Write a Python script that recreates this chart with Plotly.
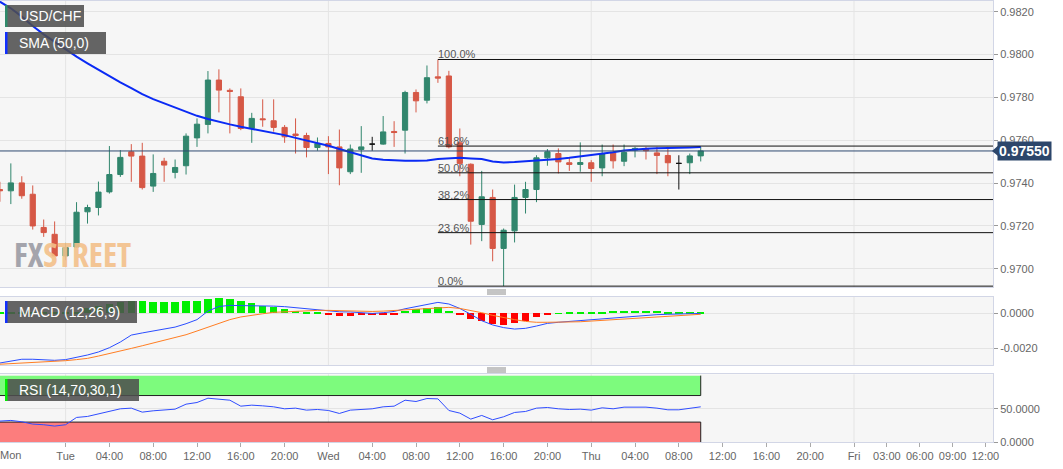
import plotly.graph_objects as go
from plotly.subplots import make_subplots

# ---------------- data (hourly bars, x = hours since Mon 18:00) ----------------
HOURS = list(range(65))
OPEN = [0.97370, 0.97364, 0.97401, 0.97348, 0.97193, 0.97161, 0.97060, 0.97102, 0.97266, 0.97286,
        0.97359, 0.97440, 0.97546, 0.97526, 0.97386, 0.97502, 0.97450, 0.97481, 0.97611, 0.97674,
        0.97881, 0.97833, 0.97803, 0.97655, 0.97700, 0.97691, 0.97660, 0.97629, 0.97622, 0.97566,
        0.97585, 0.97569, 0.97453, 0.97557, 0.97582, 0.97582, 0.97641, 0.97647, 0.97823, 0.97787,
        0.97896, 0.97900, 0.97588, 0.97488, 0.97207, 0.97333, 0.97095, 0.97177, 0.97333, 0.97370,
        0.97518, 0.97538, 0.97495, 0.97487, 0.97495, 0.97471, 0.97541, 0.97502, 0.97554, 0.97559,
        0.97541, 0.97529, 0.97492, 0.97495, 0.97527]
HIGH = [0.97406, 0.97492, 0.97432, 0.97389, 0.97230, 0.97221, 0.97121, 0.97311, 0.97299, 0.97407,
        0.97573, 0.97554, 0.97582, 0.97588, 0.97534, 0.97518, 0.97510, 0.97632, 0.97702, 0.97923,
        0.97931, 0.97842, 0.97842, 0.97728, 0.97791, 0.97791, 0.97671, 0.97702, 0.97635, 0.97613,
        0.97619, 0.97650, 0.97580, 0.97666, 0.97616, 0.97713, 0.97689, 0.97831, 0.97837, 0.97949,
        0.97977, 0.97924, 0.97655, 0.97492, 0.97457, 0.97370, 0.97188, 0.97393, 0.97406, 0.97530,
        0.97559, 0.97562, 0.97520, 0.97590, 0.97507, 0.97580, 0.97580, 0.97580, 0.97569, 0.97569,
        0.97569, 0.97569, 0.97530, 0.97538, 0.97569]
LOW = [0.97313, 0.97302, 0.97327, 0.97183, 0.97149, 0.97059, 0.97040, 0.97099, 0.97211, 0.97249,
       0.97351, 0.97429, 0.97406, 0.97370, 0.97359, 0.97406, 0.97422, 0.97440, 0.97569, 0.97632,
       0.97730, 0.97632, 0.97647, 0.97588, 0.97663, 0.97640, 0.97588, 0.97538, 0.97520, 0.97551,
       0.97442, 0.97390, 0.97442, 0.97448, 0.97551, 0.97579, 0.97569, 0.97538, 0.97730, 0.97772,
       0.97868, 0.97562, 0.97432, 0.97113, 0.97129, 0.97035, 0.96919, 0.97123, 0.97258, 0.97311,
       0.97481, 0.97445, 0.97457, 0.97453, 0.97406, 0.97432, 0.97468, 0.97479, 0.97520, 0.97510,
       0.97442, 0.97432, 0.97370, 0.97442, 0.97501]
CLOSE = [0.97364, 0.97401, 0.97341, 0.97200, 0.97169, 0.97060, 0.97099, 0.97264, 0.97286, 0.97358,
         0.97440, 0.97520, 0.97526, 0.97379, 0.97445, 0.97484, 0.97473, 0.97619, 0.97675, 0.97881,
         0.97834, 0.97828, 0.97655, 0.97702, 0.97696, 0.97660, 0.97616, 0.97622, 0.97566, 0.97585,
         0.97569, 0.97471, 0.97559, 0.97569, 0.97582, 0.97639, 0.97636, 0.97823, 0.97784, 0.97892,
         0.97890, 0.97569, 0.97492, 0.97222, 0.97336, 0.97095, 0.97180, 0.97333, 0.97370, 0.97518,
         0.97546, 0.97499, 0.97487, 0.97496, 0.97468, 0.97538, 0.97504, 0.97543, 0.97562, 0.97551,
         0.97529, 0.97495, 0.97492, 0.97527, 0.97550]
SMA50 = [0.98247, 0.98216, 0.98177, 0.98133, 0.98094, 0.98058, 0.98024, 0.97990, 0.97959, 0.97928,
         0.97900, 0.97870, 0.97843, 0.97815, 0.97792, 0.97772, 0.97753, 0.97733, 0.97714, 0.97699,
         0.97685, 0.97674, 0.97663, 0.97653, 0.97644, 0.97635, 0.97624, 0.97611, 0.97599, 0.97588,
         0.97574, 0.97559, 0.97544, 0.97530, 0.97515, 0.97509, 0.97506, 0.97504, 0.97504, 0.97506,
         0.97513, 0.97516, 0.97518, 0.97515, 0.97512, 0.97501, 0.97496, 0.97498, 0.97501, 0.97506,
         0.97509, 0.97513, 0.97518, 0.97524, 0.97530, 0.97537, 0.97544, 0.97552, 0.97557, 0.97560,
         0.97563, 0.97563, 0.97565, 0.97566, 0.97568]
MACD = [-0.00281, -0.00272, -0.00260, -0.00260, -0.00262, -0.00266, -0.00262, -0.00251, -0.00236, -0.00219,
        -0.00195, -0.00163, -0.00124, -0.00112, -0.00101, -0.00092, -0.00079, -0.00060, -0.00037, 0.00011,
        0.00037, 0.00043, 0.00043, 0.00043, 0.00043, 0.00039, 0.00036, 0.00030, 0.00024, 0.00019,
        0.00011, 0.00007, 0.00006, 0.00004, -0.00002, 0.00002, 0.00009, 0.00024, 0.00036, 0.00047,
        0.00060, 0.00051, 0.00026, -0.00007, -0.00043, -0.00067, -0.00082, -0.00090, -0.00086, -0.00073,
        -0.00058, -0.00052, -0.00047, -0.00043, -0.00039, -0.00034, -0.00028, -0.00022, -0.00017, -0.00013,
        -0.00009, -0.00007, -0.00006, -0.00004, -0.00002]
SIGNAL = [-0.00288, -0.00285, -0.00281, -0.00277, -0.00275, -0.00272, -0.00268, -0.00262, -0.00255, -0.00242,
          -0.00229, -0.00214, -0.00199, -0.00184, -0.00169, -0.00152, -0.00139, -0.00122, -0.00101, -0.00079,
          -0.00056, -0.00037, -0.00022, -0.00011, -0.00004, 0.00004, 0.00007, 0.00011, 0.00013, 0.00015,
          0.00015, 0.00013, 0.00011, 0.00009, 0.00009, 0.00011, 0.00015, 0.00019, 0.00022, 0.00028,
          0.00032, 0.00032, 0.00026, 0.00015, 0.00002, -0.00013, -0.00026, -0.00037, -0.00047, -0.00052,
          -0.00052, -0.00052, -0.00051, -0.00049, -0.00045, -0.00041, -0.00037, -0.00034, -0.00030, -0.00026,
          -0.00022, -0.00019, -0.00015, -0.00011, -0.00007]
HIST = [0.00002, 0.00004, 0.00006, 0.00005, 0.00004, 0.00003, 0.00004, 0.00010, 0.00030, 0.00043,
        0.00052, 0.00062, 0.00071, 0.00071, 0.00066, 0.00062, 0.00062, 0.00069, 0.00071, 0.00082,
        0.00086, 0.00080, 0.00069, 0.00056, 0.00043, 0.00034, 0.00022, 0.00013, 0.00006, 0.00002,
        -0.00004, -0.00013, -0.00013, -0.00011, -0.00009, -0.00006, -0.00004, 0.00015, 0.00022, 0.00030,
        0.00034, 0.00013, -0.00006, -0.00034, -0.00042, -0.00059, -0.00063, -0.00052, -0.00041, -0.00019,
        -0.00006, 0.00001, 0.00005, 0.00007, 0.00009, 0.00010, 0.00013, 0.00015, 0.00015, 0.00015,
        0.00013, 0.00010, 0.00008, 0.00008, 0.00008]
RSI = [31.5, 32.5, 30.5, 27.0, 26.0, 24.0, 26.0, 37.0, 38.5, 42.0,
       46.0, 50.0, 51.0, 45.0, 47.0, 48.0, 49.5, 57.0, 59.5, 66.0,
       64.0, 63.0, 54.0, 55.5, 54.5, 53.0, 50.0, 51.0, 48.0, 49.0,
       47.5, 43.0, 48.0, 49.0, 50.0, 53.0, 54.0, 63.0, 61.0, 65.5,
       65.0, 47.5, 43.5, 34.5, 40.0, 33.5, 38.0, 44.5, 46.0, 51.0,
       52.0, 50.0, 49.0, 49.5, 48.0, 51.5, 50.0, 52.5, 52.5, 52.5,
       51.0, 48.5, 48.5, 51.0, 53.0]
FIB_RATIOS = [0.0, 0.236, 0.382, 0.5, 0.618, 1.0]
RSI_LEVELS = [70, 30]
TICK_HOURS = [6, 10, 14, 18, 22, 26, 30, 34, 38, 42, 46, 50, 54, 58, 62, 66, 70, 74, 78, 81, 84, 87, 90]
TICK_LABELS = ["Tue", "04:00", "08:00", "12:00", "16:00", "20:00", "Wed", "04:00", "08:00", "12:00",
               "16:00", "20:00", "Thu", "04:00", "08:00", "12:00", "16:00", "20:00", "Fri", "03:00",
               "06:00", "09:00", "12:00"]
DAY_HOURS = [6, 30, 54, 78]
FIRST_DAY_LABEL = "Mon"

# ---------------- style ----------------
FONT = "Liberation Sans, Arial, sans-serif"
UP = "#31866d"
DOWN = "#d65846"
GRID = "#e4e4e4"
BORDER = "#d2d6e6"
TXT = "#666666"
XRANGE = [0.01, 90.69]
W, H = 1063, 469
ML, MR, MT, MB = 0, 70, 1, 27
PW, PH = W - ML - MR, H - MT - MB


def px_x(p):
    return (p - ML) / PW


def px_y(p):
    return (MT + PH - p) / PH


fig = make_subplots(rows=3, cols=1, shared_xaxes=True, vertical_spacing=0.02)

# candles (dojis drawn in black)
reg = [i for i in HOURS if OPEN[i] != CLOSE[i]]
doj = [i for i in HOURS if OPEN[i] == CLOSE[i]]
fig.add_trace(go.Candlestick(
    x=[HOURS[i] for i in reg], open=[OPEN[i] for i in reg], high=[HIGH[i] for i in reg],
    low=[LOW[i] for i in reg], close=[CLOSE[i] for i in reg],
    increasing=dict(line=dict(color=UP, width=1), fillcolor=UP),
    decreasing=dict(line=dict(color=DOWN, width=1), fillcolor=DOWN),
    showlegend=False, hoverinfo="skip"), row=1, col=1)
fig.add_trace(go.Candlestick(
    x=[HOURS[i] for i in doj], open=[OPEN[i] for i in doj], high=[HIGH[i] for i in doj],
    low=[LOW[i] for i in doj], close=[CLOSE[i] for i in doj],
    increasing=dict(line=dict(color="#111", width=1), fillcolor="#111"),
    decreasing=dict(line=dict(color="#111", width=1), fillcolor="#111"),
    showlegend=False, hoverinfo="skip"), row=1, col=1)
fig.add_trace(go.Scatter(x=HOURS, y=SMA50, mode="lines", line=dict(color="#0a2af5", width=2),
                         showlegend=False, hoverinfo="skip"), row=1, col=1)

# MACD
fig.add_trace(go.Bar(x=HOURS, y=HIST, width=0.68,
                     marker=dict(color=["#00f000" if v >= 0 else "#ff0000" for v in HIST], line=dict(width=0)),
                     showlegend=False, hoverinfo="skip"), row=2, col=1)
fig.add_trace(go.Scatter(x=HOURS, y=MACD, mode="lines", line=dict(color="#2a4dff", width=1),
                         showlegend=False, hoverinfo="skip"), row=2, col=1)
fig.add_trace(go.Scatter(x=HOURS, y=SIGNAL, mode="lines", line=dict(color="#ff7d22", width=1),
                         showlegend=False, hoverinfo="skip"), row=2, col=1)

# RSI
fig.add_trace(go.Scatter(x=HOURS, y=RSI, mode="lines", line=dict(color="#2f4cff", width=1),
                         showlegend=False, hoverinfo="skip"), row=3, col=1)

shapes = []
annotations = []

# RSI bands
last = HOURS[-1]
shapes.append(dict(type="rect", xref="x3", yref="y3", x0=XRANGE[0], x1=last, y0=RSI_LEVELS[0], y1=100,
                   fillcolor="#7dfb7d", line=dict(width=0), layer="below"))
shapes.append(dict(type="rect", xref="x3", yref="y3", x0=XRANGE[0], x1=last, y0=0, y1=RSI_LEVELS[1],
                   fillcolor="#fc7d7d", line=dict(width=0), layer="below"))
shapes.append(dict(type="path", xref="x3", yref="y3",
                   path=f"M {XRANGE[0]},{RSI_LEVELS[0]} L {last},{RSI_LEVELS[0]} L {last},100",
                   line=dict(color="#222", width=1), layer="below"))
shapes.append(dict(type="path", xref="x3", yref="y3",
                   path=f"M {XRANGE[0]},{RSI_LEVELS[1]} L {last},{RSI_LEVELS[1]} L {last},0",
                   line=dict(color="#222", width=1), layer="below"))

# vertical day grid lines
for xr, yr in (("x", "y domain"), ("x2", "y2 domain"), ("x3", "y3 domain")):
    for d in DAY_HOURS:
        shapes.append(dict(type="line", xref=xr, yref=yr, x0=d, x1=d, y0=0, y1=1,
                           line=dict(color=GRID, width=1), layer="below"))

# Fibonacci retracement
hi_idx = max(HOURS, key=lambda i: HIGH[i])
lo_idx = min(HOURS, key=lambda i: LOW[i])
fib_hi, fib_lo = HIGH[hi_idx], LOW[lo_idx]
for r in FIB_RATIOS:
    lvl = fib_lo + r * (fib_hi - fib_lo)
    shapes.append(dict(type="line", xref="x", yref="y", x0=hi_idx, x1=XRANGE[1], y0=lvl, y1=lvl,
                       line=dict(color="#111", width=1), layer="above"))
    annotations.append(dict(xref="x", yref="y", x=hi_idx, y=lvl, text=f"{r * 100:.1f}%", showarrow=False,
                            xanchor="left", yanchor="bottom", xshift=-2, yshift=-3,
                            font=dict(family=FONT, size=11, color="#555")))

# current price line and tag
last_price = CLOSE[-1]
shapes.append(dict(type="line", xref="x domain", yref="y", x0=0, x1=1, y0=last_price, y1=last_price,
                   line=dict(color="#2e4a70", width=1), layer="above"))
shapes.append(dict(type="path", xref="paper", yref="y",
                   path=f"M {px_x(992)},{last_price} L {px_x(998)},{last_price + 0.00024} "
                        f"L {px_x(998)},{last_price - 0.00024} Z",
                   fillcolor="#2c466b", line=dict(width=0), layer="above"))
annotations.append(dict(xref="paper", yref="y", x=px_x(997), y=last_price, text=f"<b>{last_price:.5f}</b>",
                        showarrow=False, xanchor="left", yanchor="middle", bgcolor="#2c466b", borderpad=1,
                        font=dict(family=FONT, size=14, color="white")))

# indicator label boxes
boxes = [("USD/CHF", 5, 84, 5, 27, "#2f8a6a"),
         ("SMA (50,0)", 5, 106, 32, 54, "#1230ff"),
         ("MACD (12,26,9)", 5, 137, 301, 323, "#1230ff"),
         ("RSI (14,70,30,1)", 5, 139, 379, 401, "#00ee00")]
for text, x0, x1, y0, y1, c in boxes:
    shapes.append(dict(type="rect", xref="paper", yref="paper", x0=px_x(x0), x1=px_x(x1),
                       y0=px_y(y1), y1=px_y(y0), fillcolor="rgba(78,78,78,0.87)", line=dict(width=0),
                       layer="above"))
    shapes.append(dict(type="rect", xref="paper", yref="paper", x0=px_x(x0), x1=px_x(x0 + 2.5),
                       y0=px_y(y1), y1=px_y(y0), fillcolor=c, line=dict(width=0), layer="above"))
    annotations.append(dict(xref="paper", yref="paper", x=px_x(x0 + 12), y=px_y((y0 + y1) / 2), text=text,
                            showarrow=False, xanchor="left", yanchor="middle",
                            font=dict(family=FONT, size=14, color="white")))

# watermark
annotations.append(dict(xref="paper", yref="paper", x=px_x(12), y=px_y(254),
                        text="<span style='color:#9c9ca4;font-stretch:75%'>FX</span>"
                             "<span style='color:#f3c08a;font-stretch:75%'>STREET</span>",
                        showarrow=False, xanchor="left", yanchor="middle", opacity=0.9,
                        font=dict(family="Open Sans, DejaVu Sans Condensed, sans-serif",
                                  size=33, weight=700)))

# first-day label
annotations.append(dict(xref="paper", yref="paper", x=0, y=0, text=FIRST_DAY_LABEL, showarrow=False,
                        xanchor="left", yanchor="top", yshift=-5, xshift=-2,
                        font=dict(family=FONT, size=11, color=TXT)))

# panel drag handles
for yc in (292, 370):
    for dy in (-2, 0, 2):
        shapes.append(dict(type="line", xref="paper", yref="paper", x0=px_x(487), x1=px_x(506),
                           y0=px_y(yc + dy), y1=px_y(yc + dy), line=dict(color="#8a8a8a", width=1)))

fig.update_layout(
    width=W, height=H, margin=dict(l=ML, r=MR, t=MT, b=MB),
    paper_bgcolor="white", plot_bgcolor="#f6f6f6",
    font=dict(family=FONT, size=11, color=TXT),
    shapes=shapes, annotations=annotations, showlegend=False,
    bargap=0, boxgap=0.32,
)
fig.update_xaxes(range=XRANGE, showgrid=False, zeroline=False, showline=True, mirror=True,
                 linecolor=BORDER, linewidth=1, rangeslider_visible=False, automargin=False,
                 tickvals=TICK_HOURS, ticktext=TICK_LABELS)
fig.update_xaxes(showticklabels=False, ticks="", row=1, col=1)
fig.update_xaxes(showticklabels=False, ticks="", row=2, col=1)
fig.update_xaxes(ticks="outside", ticklen=4, tickcolor="#aaa", tickfont=dict(size=11, color=TXT),
                 row=3, col=1)

common_y = dict(side="right", showline=True, mirror=True, linecolor=BORDER, linewidth=1, gridcolor=GRID,
                zeroline=False, ticks="outside", ticklen=4, tickcolor="#999", automargin=False,
                tickfont=dict(size=11, color=TXT))
fig.update_layout(
    yaxis=dict(domain=[px_y(287), px_y(1)], range=[0.96915, 0.98250], dtick=0.002, tick0=0.97,
               tickformat=".4f", **common_y),
    yaxis2=dict(domain=[px_y(365.3), px_y(296.7)], range=[-0.00294, 0.00092], tickvals=[-0.002, 0],
                ticktext=["-0.0020", "0.0000"], **common_y),
    yaxis3=dict(domain=[px_y(442), px_y(374.3)], range=[0, 102], tickvals=[0, 50],
                ticktext=["0.0000", "50.0000"], **common_y),
)

fig.write_html("out.html", config={"displayModeBar": False},
               post_script="document.body.style.margin='0px';")
